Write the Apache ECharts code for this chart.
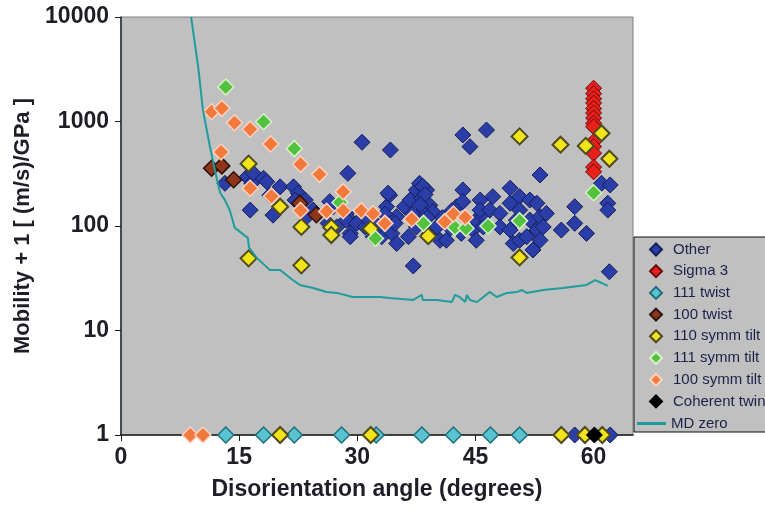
<!DOCTYPE html>
<html><head><meta charset="utf-8">
<script src="https://cdn.jsdelivr.net/npm/echarts@6/dist/echarts.min.js"></script>
<style>html,body{margin:0;padding:0;background:#fff}#c{width:765px;height:510px}</style>
</head><body><div id="c"></div>
<script>
const xTicks = [0, 15, 30, 45, 60];
const yTicks = [1, 10, 100, 1000, 10000];
const markerNames = ['Other','Sigma 3','111 twist','100 twist','110 symm tilt','111 symm tilt','100 symm tilt','Coherent twin'];
const lineNames = ['MD zero'];

const other = [[13.2,256],[16.0,295],[16.6,256],[16.8,320],[18.1,286],[18.5,265],[16.4,142],[18.9,197],[19.3,127],[20.2,237],[21.9,237],[22.5,206],[22.1,177],[23.6,123],[24.4,142],[23.4,177],[26.3,106],[27.4,158],[27.4,98],[28.6,132],[29.1,114],[29.1,85],[30.3,114],[28.8,319],[30.6,633],[34.2,534],[26.9,152],[26.5,171],[28.6,114],[29.9,106],[29.1,79],[31.0,98],[32.0,79],[33.1,79],[33.7,153],[34.1,197],[33.9,206],[35.0,123],[34.4,85],[35.0,68],[34.8,106],[36.0,153],[36.7,177],[37.5,221],[37.9,256],[38.8,221],[38.2,184],[39.2,158],[39.6,137],[38.2,137],[37.5,98],[36.5,79],[39.2,85],[40.1,98],[40.5,73],[37.1,41.5],[38.3,240],[38.6,200],[38.0,160],[38.9,120],[37.0,130],[41.3,73],[42.6,153],[43.4,221],[43.4,171],[43.2,85],[44.7,91.5],[45.1,73],[45.1,114],[45.6,177],[46.0,123],[45.6,142],[46.0,98],[46.8,142],[47.2,191],[48.1,132],[48.1,98],[49.4,165],[49.4,230],[49.4,91.5],[49.8,68],[50.2,114],[50.6,191],[50.6,142],[50.6,73],[51.5,79],[51.9,177],[51.9,114],[52.3,59],[52.8,165],[52.8,91.5],[53.2,123],[53.2,73],[53.6,98],[54.0,132],[43.4,743],[44.3,574],[46.4,829],[53.2,308],[57.6,153],[57.6,106],[55.9,91.5],[59.1,85],[61.0,256],[62.1,247],[61.8,165],[61.8,142],[62.0,36.5],[31.2,120],[32.6,100],[33.5,130],[40.8,120],[41.8,95],[42.0,140],[57.6,1],[62.1,1]];
const sigma3 = [[60,2080],[60,1846],[60,1650],[60,1500],[60,1330],[60,1208],[60,1080],[60,963],[60,890],[60,641],[60,575],[60,497],[60,366],[60,330]];
const twist111 = [[13.3,1],[18.1,1],[22.0,1],[28.0,1],[32.4,1],[38.2,1],[42.2,1],[46.9,1],[50.6,1]];
const twist100 = [[11.5,357],[12.8,376],[14.3,277],[22.7,165],[24.8,128]];
const tilt110 = [[16.2,395],[20.2,153],[22.9,98],[26.7,97],[26.7,82],[31.7,94],[39.0,80],[16.2,49],[22.9,42],[50.6,720],[55.8,600],[61.0,771],[59.0,584],[62.0,440],[50.6,50],[20.2,1],[31.7,1],[55.9,1],[58.9,1],[61.1,1]];
const tilt111 = [[13.3,2140],[18.1,995],[22.0,550],[27.8,168],[32.3,76],[38.4,106],[42.4,97],[43.8,95],[46.6,100],[50.6,112],[60.0,208]];
const tilt100 = [[11.5,1241],[12.8,1337],[14.4,974],[16.4,842],[19.0,609],[22.8,390],[25.2,312],[12.7,510],[16.4,230],[19.1,193],[22.8,141],[26.1,138],[28.2,213],[28.2,140],[30.5,140],[32.0,131],[33.5,106],[36.9,116],[41.1,110],[42.2,130],[43.7,121],[8.8,1],[10.4,1]];
const coherent = [[60.1,1]];
const mdZero = [[8.9,10000],[9.8,3325],[10.4,1289],[11.3,570],[12.2,275],[12.6,207],[13.2,177],[13.8,142],[14.45,96],[16.1,77],[16.25,62],[17.3,49],[18.9,38],[20.2,38],[21.8,30.4],[22.7,27.3],[24.4,25.5],[26.1,23.4],[27.4,22.9],[29.4,20.9],[32.9,20.9],[34.1,20.5],[37.1,19.6],[38.2,21.9],[38.3,19.6],[40.1,19.6],[42.0,18.7],[42.4,21.9],[43.0,20.9],[43.7,18.7],[43.9,21.9],[44.3,19.6],[45.2,18.7],[46.8,23.4],[47.7,20.9],[49.0,22.9],[50.3,23.4],[50.9,24.4],[51.5,22.9],[53.6,24.4],[56.1,25.5],[59.1,27.3],[60.2,30.4],[61.0,28.5],[61.8,26.7]];

const FONT = 'Liberation Sans, Arial, sans-serif';
const TXT = '#1e1e28';
const LEG_TXT = { fontFamily: FONT, fontSize: 15, color: '#1c2048', lineHeight: 15, padding: [0, 0, 0, 6] };
function sc(name, data, fill, border, bw) {
  return { name, type: 'scatter', data, symbol: 'diamond', symbolSize: 16, clip: false,
    itemStyle: { color: fill, borderColor: border, borderWidth: bw, opacity: 1 } };
}
const chart = echarts.init(document.getElementById('c'), null, { renderer: 'canvas' });
chart.setOption({
  animation: false,
  backgroundColor: '#ffffff',
  grid: { left: 121, right: 132, top: 17, bottom: 75, show: true, backgroundColor: '#c0c0c0', borderColor: '#808080', borderWidth: 1 },
  graphic: [{ type: 'rect', z: 3, shape: { x: 634, y: 237, width: 200, height: 195 },
    style: { fill: '#c0c0c0', stroke: '#111', lineWidth: 1 } }],
  xAxis: {
    type: 'value', min: 0, max: 65, interval: 15,
    name: 'Disorientation angle (degrees)', nameLocation: 'middle', nameGap: 43,
    nameTextStyle: { fontFamily: FONT, fontSize: 23, fontWeight: 'bold', color: TXT },
    axisLine: { show: true, lineStyle: { color: '#1a1a1a', width: 1.5 } },
    axisTick: { show: true, length: 6, lineStyle: { color: '#1a1a1a' }, customValues: xTicks },
    axisLabel: { fontFamily: FONT, fontSize: 23, fontWeight: 'bold', color: TXT, margin: 11, customValues: xTicks },
    splitLine: { show: false }
  },
  yAxis: {
    type: 'log', logBase: 10, min: 1, max: 10000,
    name: 'Mobility + 1 [ (m/s)/GPa ]', nameLocation: 'middle', nameGap: 86,
    nameTextStyle: { fontFamily: FONT, fontSize: 22, fontWeight: 'bold', color: TXT },
    axisLine: { show: true, lineStyle: { color: '#1a2a30', width: 1.5 } },
    axisTick: { show: true, length: 6, lineStyle: { color: '#1a1a1a' } },
    axisLabel: { fontFamily: FONT, fontSize: 23, fontWeight: 'bold', color: TXT, margin: 12, formatter: v => String(Math.round(v)) },
    splitLine: { show: false }, minorTick: { show: false }
  },
  legend: [{
    orient: 'vertical', left: 649, top: 238, data: markerNames, selectedMode: false,
    padding: [4, 60, 0, 0], itemWidth: 12, itemHeight: 12, itemGap: 6.7,
    textStyle: LEG_TXT
  }, {
    orient: 'vertical', left: 637, top: 416, selectedMode: false,
    data: [{ name: lineNames[0], icon: 'rect' }],
    padding: 0, itemWidth: 29, itemHeight: 3, textStyle: { fontFamily: FONT, fontSize: 15, color: '#1c2048', lineHeight: 15 }
  }],
  series: [
    sc('Other', other, '#2b3da6', '#141e5a', 1),
    sc('Sigma 3', sigma3, '#e8201c', '#6a0a0a', 1),
    sc('111 twist', twist111, '#5ac3d2', '#1e6e78', 1.5),
    sc('100 twist', twist100, '#8e3418', '#2a1208', 1.5),
    sc('110 symm tilt', tilt110, '#f2e41a', '#4e4a1e', 2),
    sc('111 symm tilt', tilt111, '#52c23e', '#d8f0c8', 1.5),
    sc('100 symm tilt', tilt100, '#f2793c', '#fbd2c0', 1.5),
    sc('Coherent twin', coherent, '#000000', '#000000', 1),
    { name: 'MD zero', type: 'line', data: mdZero, symbol: 'none', showSymbol: false, clip: true,
      lineStyle: { color: '#1f9c9c', width: 2 }, itemStyle: { color: '#1f9c9c' } }
  ]
});
</script></body></html>
